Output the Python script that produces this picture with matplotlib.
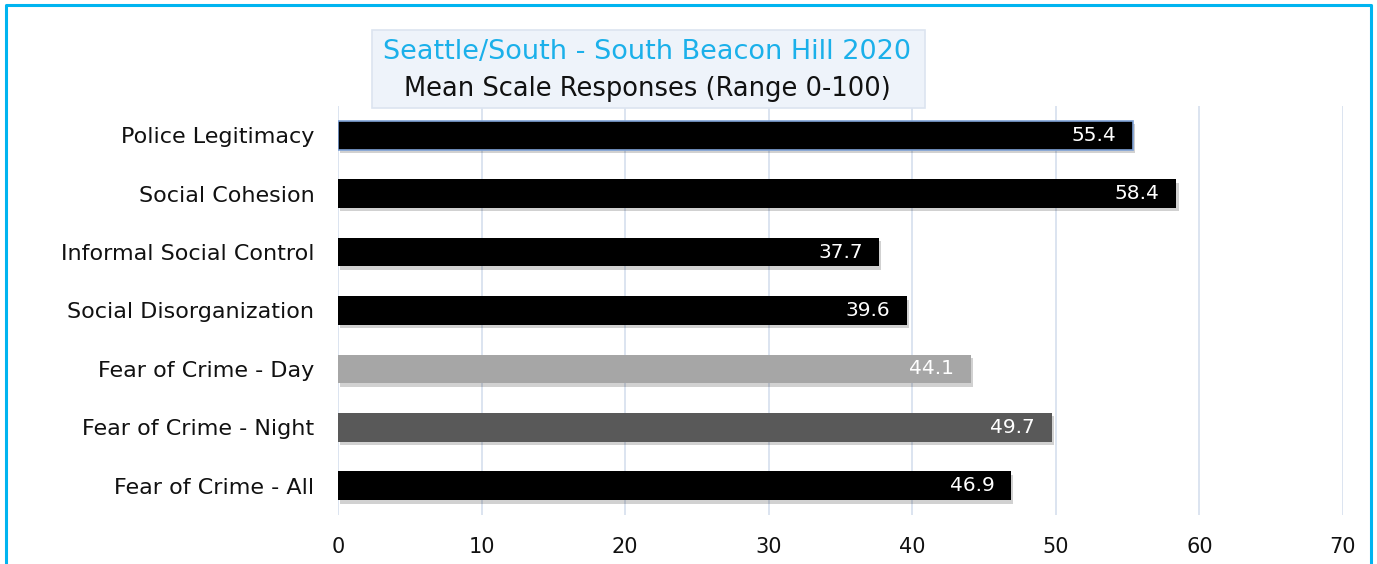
import matplotlib.pyplot as plt
import matplotlib.patheffects as pe
from matplotlib.patches import Rectangle

# --- Data ---
categories = ['Police Legitimacy', 'Social Cohesion', 'Informal Social Control',
              'Social Disorganization', 'Fear of Crime - Day', 'Fear of Crime - Night',
              'Fear of Crime - All']
values = [55.4, 58.4, 37.7, 39.6, 44.1, 49.7, 46.9]
bar_colors = ['#000000', '#000000', '#000000', '#000000', '#A6A6A6', '#595959', '#000000']
x_ticks = [0, 10, 20, 30, 40, 50, 60, 70]

title_line1 = 'Seattle/South - South Beacon Hill 2020'
title_line2 = 'Mean Scale Responses (Range 0-100)'

plt.rcParams['font.family'] = ['DejaVu Sans']

fig = plt.figure(figsize=(13.77, 5.64), dpi=100)
ax = fig.add_axes([0.2455, 0.087, 0.7298, 0.725])

y = list(range(len(categories)))
shadow = [pe.SimplePatchShadow(offset=(1.5, -2.5), shadow_rgbFace='#000000', alpha=0.18), pe.Normal()]
bars = ax.barh(y, values, height=0.49, color=bar_colors, zorder=3)
for b in bars:
    b.set_path_effects(shadow)
# first bar has a light blue outline
bars[0].set_edgecolor('#7FA2D6')
bars[0].set_linewidth(1.2)

for yi, v in zip(y, values):
    ax.annotate(f'{v:.1f}', xy=(v, yi), xytext=(-12, 0), textcoords='offset points',
                ha='right', va='center', color='white', fontsize=14.5, zorder=4)

ax.set_xlim(0, 70)
ax.set_ylim(len(categories) - 0.5, -0.5)
ax.set_xticks(x_ticks)
ax.set_yticks(y)
ax.set_yticklabels(categories)
ax.tick_params(axis='both', length=0, colors='#111111')
ax.tick_params(axis='x', pad=16, labelsize=15)
ax.tick_params(axis='y', pad=17, labelsize=16)
ax.grid(axis='x', color='#D6DFEE', linewidth=1.2, zorder=0)
for s in ax.spines.values():
    s.set_visible(False)

# title box
fig.patches.append(Rectangle((372 / 1377, 1 - 108 / 564), 553 / 1377, 78 / 564,
                             transform=fig.transFigure, facecolor='#EEF3FA',
                             edgecolor='#DCE4F0', linewidth=1.2, zorder=5))
fig.text(647 / 1377, 1 - 52 / 564, title_line1, ha='center', va='center',
         fontsize=19.5, color='#1BB0EA', zorder=6)
fig.text(647 / 1377, 1 - 89 / 564, title_line2, ha='center', va='center',
         fontsize=18.5, color='#111111', zorder=6)

# outer border (left, top, right)
fig.add_artist(plt.Line2D([5.5 / 1377, 5.5 / 1377, 1370.5 / 1377, 1370.5 / 1377],
                          [0, 1 - 4.5 / 564, 1 - 4.5 / 564, 0],
                          transform=fig.transFigure, color='#00B4F0', linewidth=2.2))

fig.savefig('out.png', dpi=100)
